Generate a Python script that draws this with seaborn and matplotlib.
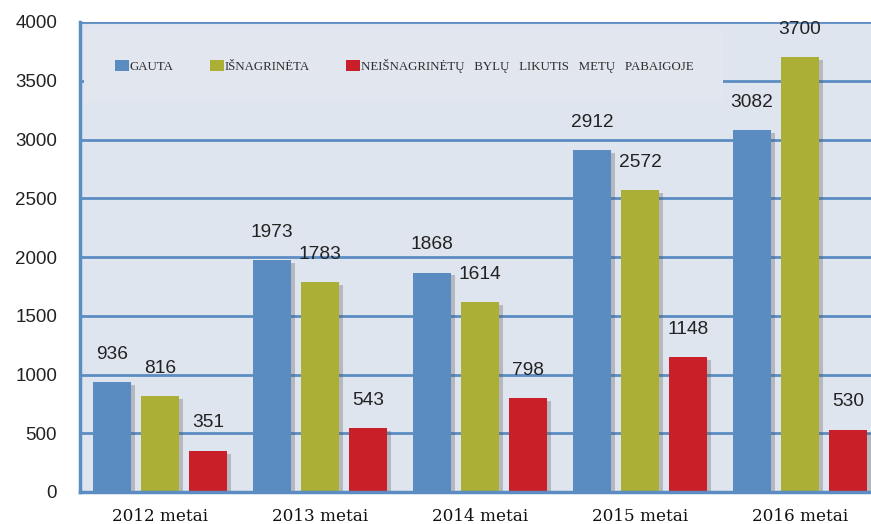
import matplotlib
matplotlib.use("Agg")
import matplotlib.pyplot as plt
import matplotlib.patheffects as pe
from matplotlib.patches import Rectangle, Patch
import seaborn as sns
import pandas as pd

years = ["2012 metai", "2013 metai", "2014 metai", "2015 metai", "2016 metai"]
series = ["GAUTA", "IŠNAGRINĖTA", "NEIŠNAGRINĖTŲ   BYLŲ   LIKUTIS   METŲ   PABAIGOJE"]
gauta = [936, 1973, 1868, 2912, 3082]
isnagrineta = [816, 1783, 1614, 2572, 3700]
likutis = [351, 543, 798, 1148, 530]
yticks = [0, 500, 1000, 1500, 2000, 2500, 3000, 3500, 4000]

colors = ["#5a8cc1", "#acaf36", "#c81f28"]
bg = "#dfe5ee"
line_c = "#5b8dc2"

rows = []
for s, vals in zip(series, [gauta, isnagrineta, likutis]):
    for y, v in zip(years, vals):
        rows.append({"year": y, "series": s, "value": v})
df = pd.DataFrame(rows)

sns.set_style("white")
fig = plt.figure(figsize=(8.71, 5.24), dpi=100)
ax = fig.add_axes([80 / 871, 32 / 524, 791 / 871, 470 / 524])
ax.set_facecolor(bg)

sns.barplot(data=df, x="year", y="value", hue="series", order=years,
            hue_order=series, palette=colors, width=0.9, gap=0.2,
            saturation=1, ax=ax, legend=False, zorder=3)

shadow = [pe.SimplePatchShadow(offset=(3, -2), shadow_rgbFace="#555555", alpha=0.3), pe.Normal()]
for p in ax.patches:
    p.set_path_effects(shadow)
    p.set_edgecolor("none")

ax.set_ylim(0, 4000)
ax.set_xlim(-0.5, 4.5 - 9 / 160)
ax.set_yticks(yticks)
ax.set_yticklabels([str(t) for t in yticks], fontfamily="Liberation Sans", fontsize=13.5, color="#222222")
ax.tick_params(axis="y", length=0, pad=16.5)
ax.tick_params(axis="x", length=0, pad=11.5)
for lab in ax.get_xticklabels():
    lab.set_fontfamily("DejaVu Serif")
    lab.set_fontsize(12.2)
    lab.set_color("#111111")
ax.set_xlabel("")
ax.set_ylabel("")

for t in yticks[1:]:
    ax.axhline(t, color=line_c, lw=2, zorder=1)

for side in ["top", "right"]:
    ax.spines[side].set_visible(False)
for side in ["left", "bottom"]:
    ax.spines[side].set_color(line_c)
    ax.spines[side].set_linewidth(2.5)
    ax.spines[side].set_zorder(4)

# value labels
for cont in ax.containers:
    for bar in cont:
        h = bar.get_height()
        ax.annotate(f"{int(round(h))}", (bar.get_x() + bar.get_width() / 2, h),
                    xytext=(0, 20), textcoords="offset points", ha="center", va="center",
                    fontfamily="Liberation Sans", fontsize=13.8, color="#222222", zorder=5)

# legend area
ax.add_patch(Rectangle((0.005, 0.83), 0.808, 0.155, transform=ax.transAxes,
                       facecolor="#e2e7ef", edgecolor="none", zorder=2))
handles = [Patch(facecolor=c, edgecolor="none") for c in colors]
leg = ax.legend(handles, series, loc="center left", bbox_to_anchor=(0.0442, 0.907),
                ncol=3, frameon=False, borderpad=0, borderaxespad=0,
                handlelength=1.1, handleheight=0.9, handletextpad=0.05,
                columnspacing=2.8, prop={"family": "Liberation Serif", "size": 9.3})
leg.set_zorder(6)
for t in leg.get_texts():
    t.set_color("#2e2e2e")

fig.savefig("out.png", dpi=100, facecolor="white")
